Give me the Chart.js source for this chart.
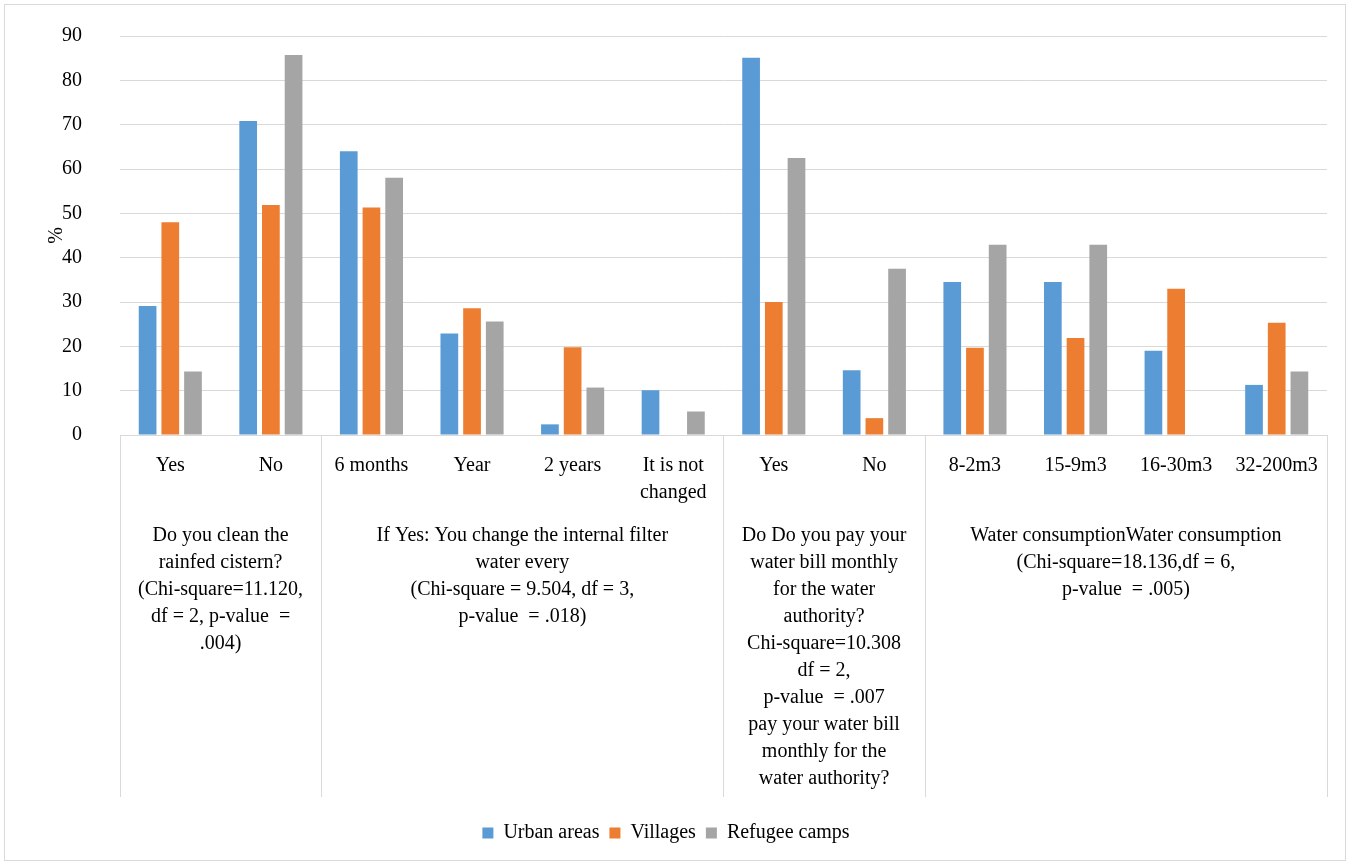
<!DOCTYPE html>
<html>
<head>
<meta charset="utf-8">
<script src="https://cdn.jsdelivr.net/npm/chart.js@4/dist/chart.umd.min.js"></script>
<style>
    body { margin: 0; background: #fff; }
    #wrap { position: absolute; left: 4px; top: 4px; width: 1340px; height: 855px; border: 1px solid #d9d9d9; }
</style>
</head>
<body>
<div id="wrap"><canvas id="chart" width="1340" height="855"></canvas></div>
<script>
// categories and values (%)
var categories = ['Yes', 'No', '6 months', 'Year', '2 years', ['It is not', 'changed'],
                  'Yes', 'No', '8-2m3', '15-9m3', '16-30m3', '32-200m3'];
var urbanAreas = [29.1, 70.8, 64.0, 22.9, 2.4, 10.1, 85.1, 14.6, 34.5, 34.5, 19.0, 11.3];
var villages = [48.0, 51.9, 51.3, 28.6, 19.8, 0, 30.0, 3.8, 19.7, 21.9, 33.0, 25.3];
var refugeeCamps = [14.3, 85.7, 58.0, 25.6, 10.7, 5.3, 62.5, 37.5, 42.9, 42.9, 0, 14.3];
var yTicks = [0, 10, 20, 30, 40, 50, 60, 70, 80, 90];

// second level of the category axis
var groupSizes = [2, 4, 2, 4];
var groupLabels = [
    ['Do you clean the', 'rainfed cistern?', '(Chi-square=11.120,', 'df = 2, p-value  =', '.004)'],
    ['If Yes: You change the internal filter', 'water every', '(Chi-square = 9.504, df = 3,', 'p-value  = .018)'],
    ['Do Do you pay your', 'water bill monthly', 'for the water', 'authority?', 'Chi-square=10.308',
     'df = 2,', 'p-value  = .007', 'pay your water bill', 'monthly for the', 'water authority?'],
    ['Water consumptionWater consumption', '(Chi-square=18.136,df = 6,', 'p-value  = .005)']
];

var FONT = '"Liberation Serif", "Times New Roman", serif';
var GRID = '#d9d9d9';

var groupPlugin = {
    id: 'groupAxis',
    afterDraw: function (chart) {
        var ctx = chart.ctx;
        var xs = chart.scales.x;
        var area = chart.chartArea;
        var step = (xs.right - xs.left) / categories.length;
        var y0 = area.bottom, y1 = area.bottom + 362;
        var start = 0;

        ctx.save();
        ctx.strokeStyle = GRID;
        ctx.lineWidth = 1;
        ctx.font = '20px ' + FONT;
        ctx.fillStyle = '#000';
        ctx.textAlign = 'center';
        ctx.textBaseline = 'middle';

        function vline(x) {
            x = Math.round(x) + 0.5;
            ctx.beginPath();
            ctx.moveTo(x, y0);
            ctx.lineTo(x, y1);
            ctx.stroke();
        }

        vline(xs.left);
        groupSizes.forEach(function (n, g) {
            var x0 = xs.getPixelForValue(start) - step / 2;
            var x1 = xs.getPixelForValue(start + n - 1) + step / 2;
            vline(x1);
            groupLabels[g].forEach(function (t, i) {
                ctx.fillText(t, (x0 + x1) / 2, y0 + 101 + i * 27);
            });
            start += n;
        });
        ctx.restore();
    }
};

var ctx = document.getElementById('chart');
var chart = new Chart(ctx, {
    type: 'bar',
    data: {
        labels: categories,
        datasets: [
            { label: 'Urban areas', data: urbanAreas, backgroundColor: '#5b9bd5' },
            { label: 'Villages', data: villages, backgroundColor: '#ed7d31' },
            { label: 'Refugee camps', data: refugeeCamps, backgroundColor: '#a5a5a5' }
        ]
    },
    options: {
        responsive: false,
        animation: false,
        layout: { padding: { top: 31, right: 18, bottom: 7, left: 0 } },
        datasets: {
            bar: { categoryPercentage: 0.677, barPercentage: 0.78 }
        },
        scales: {
            x: {
                grid: { display: false, drawTicks: false },
                border: { display: true, color: GRID },
                ticks: {
                    autoSkip: false,
                    maxRotation: 0,
                    padding: 17,
                    color: '#000',
                    font: { family: FONT, size: 20, lineHeight: 1.35 }
                },
                afterFit: function (scale) { scale.height = 378; }
            },
            y: {
                min: 0,
                max: 90,
                afterBuildTicks: function (scale) {
                    scale.ticks = yTicks.map(function (v) { return { value: v }; });
                },
                // invisible tick marks push the labels away from the plot
                grid: { color: GRID, drawTicks: true, tickLength: 30, tickColor: 'rgba(0,0,0,0)' },
                border: { display: false },
                ticks: {
                    padding: 8,
                    color: '#000',
                    font: { family: FONT, size: 20 }
                },
                title: {
                    display: true,
                    text: '%',
                    color: '#000',
                    padding: { top: 40, bottom: 0 },
                    font: { family: FONT, size: 20 }
                },
                afterFit: function (scale) { scale.width = 115; }
            }
        },
        plugins: {
            legend: {
                position: 'bottom',
                labels: {
                    boxWidth: 11,
                    boxHeight: 11,
                    padding: 10,
                    color: '#000',
                    font: { family: FONT, size: 20 }
                }
            },
            tooltip: { enabled: false }
        }
    },
    plugins: [groupPlugin]
});
</script>
</body>
</html>
